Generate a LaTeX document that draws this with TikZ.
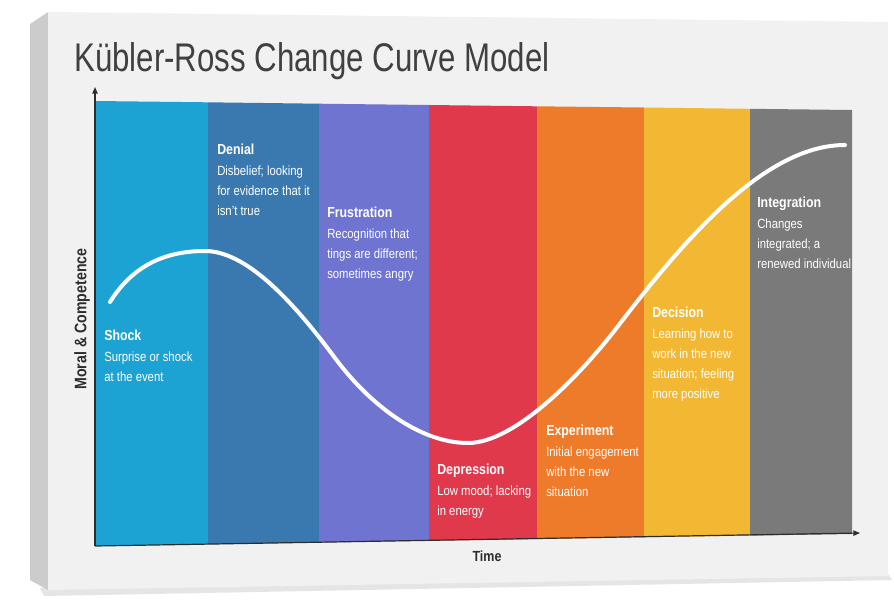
\documentclass[tikz,border=0pt]{standalone}
\usepackage{fontspec}
\setmainfont{Liberation Sans}[FakeStretch=0.85]
\newfontfamily\titlefont{Liberation Sans}[FakeStretch=0.78]
\usetikzlibrary{arrows.meta}
\definecolor{cShock}{RGB}{28,163,211}
\definecolor{cDenial}{RGB}{58,121,176}
\definecolor{cFrust}{RGB}{111,116,208}
\definecolor{cDepr}{RGB}{224,57,76}
\definecolor{cExp}{RGB}{238,123,42}
\definecolor{cDec}{RGB}{242,184,52}
\definecolor{cInt}{RGB}{122,122,122}
\definecolor{canvasface}{RGB}{241,241,241}
\definecolor{canvasside}{RGB}{204,204,204}
\definecolor{titlegray}{RGB}{64,64,64}
\definecolor{axisgray}{RGB}{45,45,45}
\newcommand{\stagetext}[2]{\parbox[t]{110pt}{\raggedright\fontsize{10}{15.2}\selectfont{\fontsize{10.9}{13}\selectfont\bfseries #1}\\[0.6pt]#2}}
\tikzset{
  stagelbl/.style={anchor=base west, inner sep=0pt, text=white},
  axisline/.style={draw=axisgray, line width=0.9pt, -{Triangle[length=5pt,width=4pt]}},
  curveline/.style={draw=white, line width=3pt, line cap=round},
  axislbl/.style={text=axisgray, inner sep=0pt}
}
\begin{document}
\begin{tikzpicture}[x=0.75pt,y=-0.75pt]
\useasboundingbox (0,0) rectangle (894,601);
\fill[white] (0,0) rectangle (894,601);
% canvas
\fill[black!10] (40,588) -- (888,574) -- (892,580) -- (44,596) -- cycle;
\fill[canvasside] (30,24) -- (48,12) -- (48,590) -- (30,580) -- cycle;
\fill[canvasface] (48,12) -- (888,22) -- (888,576) -- (48,590) -- cycle;
% title
\node[anchor=base west, inner sep=0pt, text=titlegray, font=\titlefont\fontsize{30}{34}\selectfont] (title) at (74,71) {Kübler-Ross Change Curve Model};
% stripes
\fill[cShock] (95,101) -- (208,102.3) -- (208,544.2) -- (95,546) -- cycle;
\fill[cDenial] (208,102.3) -- (319,103.7) -- (319,542.4) -- (208,544.2) -- cycle;
\fill[cFrust] (319,103.7) -- (429,105) -- (429,540.7) -- (319,542.4) -- cycle;
\fill[cDepr] (429,105) -- (537,106.3) -- (537,539) -- (429,540.7) -- cycle;
\fill[cExp] (537,106.3) -- (644,107.5) -- (644,537.3) -- (537,539) -- cycle;
\fill[cDec] (644,107.5) -- (750,108.8) -- (750,535.6) -- (644,537.3) -- cycle;
\fill[cInt] (750,108.8) -- (852,110) -- (852,534) -- (750,535.6) -- cycle;
% axes
\coordinate (origin) at (95,546);
\coordinate (ytop) at (95,87);
\coordinate (xend) at (860,533);
\draw[axisline] (origin) -- (ytop);
\draw[axisline] (origin) -- (xend);
\node[axislbl, rotate=90, font=\fontsize{12.5}{14}\selectfont\bfseries] (ylab) at (82,319) {Moral \& Competence};
\node[axislbl, font=\fontsize{11}{13}\selectfont\bfseries] (xlab) at (487,556) {Time};
% curve
\coordinate (cA) at (110,302);
\coordinate (cB) at (205,251);
\coordinate (cI1) at (335,358);
\coordinate (cC) at (468,443);
\coordinate (cI2) at (615,330);
\coordinate (cD) at (845,145);
\draw[curveline] (cA) .. controls (135,262) and (170,251) .. (cB)
  .. controls (250,251) and (300,311) .. (cI1)
  .. controls (370,405) and (420,443) .. (cC)
  .. controls (515,443) and (580,375) .. (cI2)
  .. controls (675,252) and (760,145) .. (cD);
% labels
\node[stagelbl] (shock) at (104,340) {\stagetext{Shock}{Surprise or shock\\at the event}};
\node[stagelbl] (denial) at (217,154) {\stagetext{Denial}{Disbelief; looking\\for evidence that it\\isn't true}};
\node[stagelbl] (frust) at (327,217) {\stagetext{Frustration}{Recognition that\\tings are different;\\sometimes angry}};
\node[stagelbl] (depr) at (437,474) {\stagetext{Depression}{Low mood; lacking\\in energy}};
\node[stagelbl] (exper) at (546,435) {\stagetext{Experiment}{Initial engagement\\with the new\\situation}};
\node[stagelbl] (decis) at (652,317) {\stagetext{Decision}{Learning how to\\work in the new\\situation; feeling\\more positive}};
\node[stagelbl] (integ) at (757,207) {\stagetext{Integration}{Changes\\integrated; a\\renewed individual}};
\end{tikzpicture}
\end{document}
